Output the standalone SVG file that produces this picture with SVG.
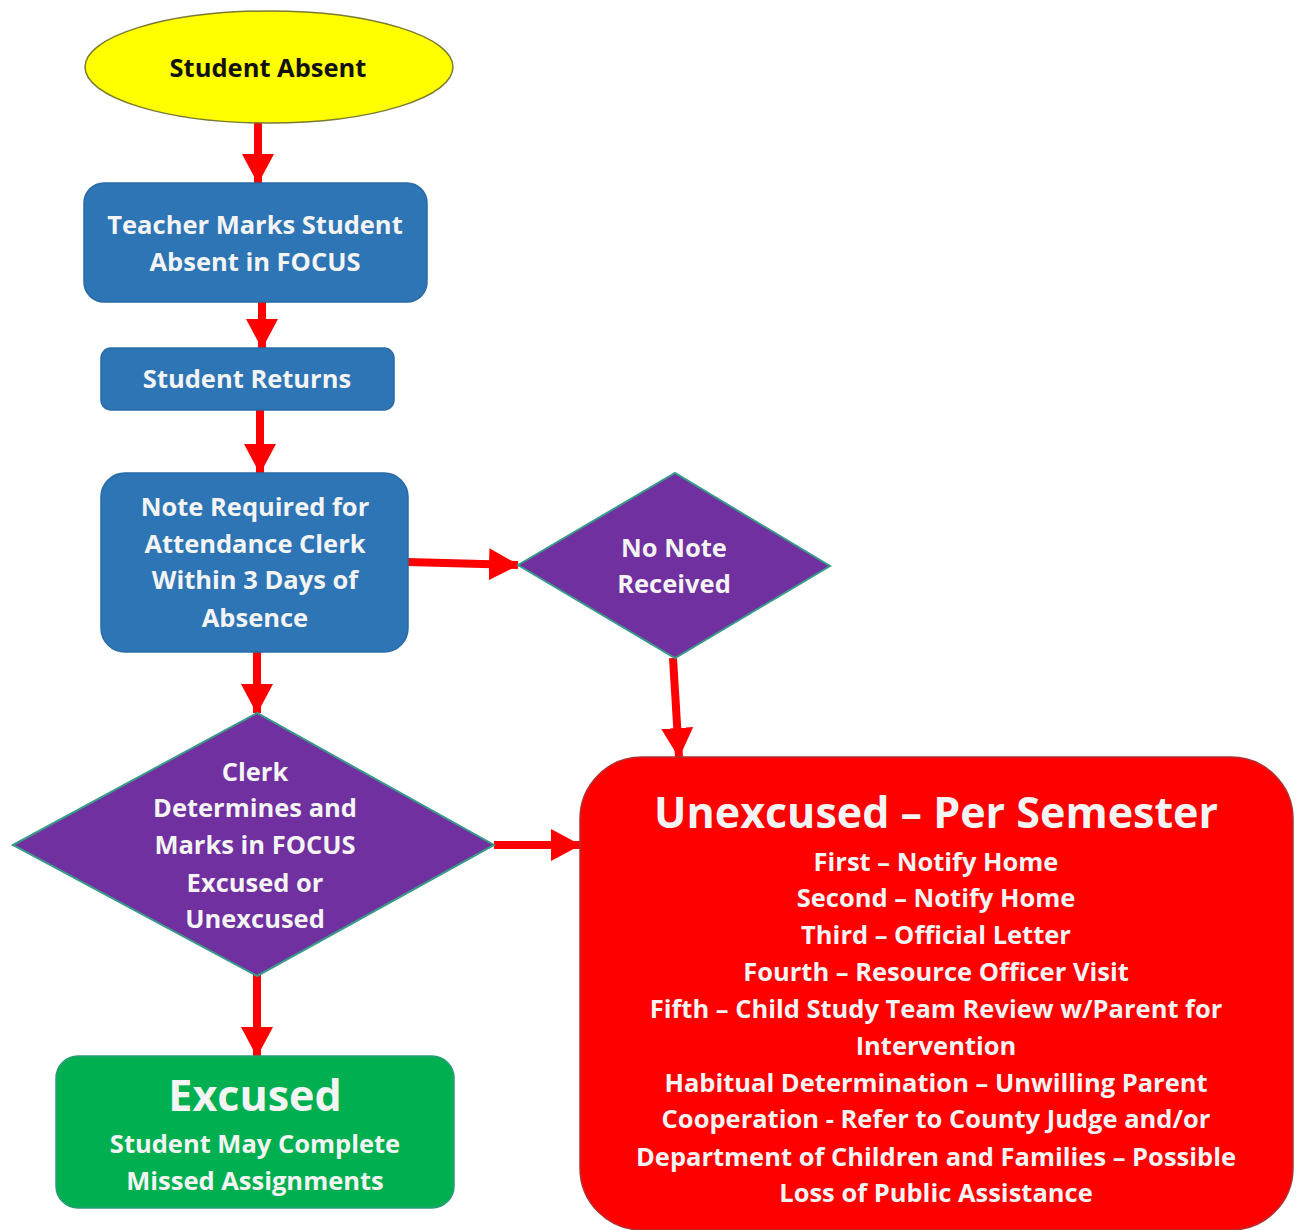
<svg xmlns="http://www.w3.org/2000/svg" width="1296" height="1230" viewBox="0 0 1296 1230">
<defs>
<marker id="ah" markerUnits="userSpaceOnUse" markerWidth="30" markerHeight="32" refX="29" refY="16" orient="auto">
<path d="M0,0 L30,16 L0,32 Z" fill="#ff0000"/>
</marker>
<style>
.t{font-family:"Open Sans",Lato,"Liberation Sans",sans-serif;font-weight:bold;text-anchor:middle;fill:#f4f4f4;font-size:25.5px}
.big{font-size:43px}
.box{fill:#2e75b6;stroke:#2a6aa6;stroke-width:1.5}
.dia{fill:#7030a0;stroke:#3a9a8a;stroke-width:2}
.arr{stroke:#ff0000;stroke-width:8;fill:none;marker-end:url(#ah)}
</style>
</defs>
<rect width="1296" height="1230" fill="#ffffff"/>
<g id="connectors">
<line class="arr" x1="258" y1="123" x2="258" y2="183"/>
<line class="arr" x1="262" y1="302" x2="262" y2="348"/>
<line class="arr" x1="260" y1="410" x2="260" y2="473"/>
<line class="arr" x1="408" y1="562" x2="518" y2="565"/>
<line class="arr" x1="673" y1="658" x2="679" y2="757"/>
<line class="arr" x1="257" y1="652" x2="257" y2="713"/>
<line class="arr" x1="494" y1="845" x2="580" y2="845"/>
<line class="arr" x1="257" y1="975" x2="257" y2="1056"/>
</g>
<g id="student-absent">
<ellipse cx="269" cy="67" rx="184" ry="56" fill="#ffff00" stroke="#7a7a30" stroke-width="1.5"/>
<text class="t" x="268" y="77" style="fill:#111">Student Absent</text>
</g>
<g id="teacher-marks">
<rect class="box" x="84" y="183" width="343" height="119" rx="20"/>
<text class="t" x="255" y="234">Teacher Marks Student</text>
<text class="t" x="255" y="271">Absent in FOCUS</text>
</g>
<g id="student-returns">
<rect class="box" x="101" y="348" width="293" height="62" rx="10"/>
<text class="t" x="247" y="388">Student Returns</text>
</g>
<g id="note-required">
<rect class="box" x="101" y="473" width="307" height="179" rx="24"/>
<text class="t" x="255" y="516">Note Required for</text>
<text class="t" x="255" y="553">Attendance Clerk</text>
<text class="t" x="255" y="589">Within 3 Days of</text>
<text class="t" x="255" y="627">Absence</text>
</g>
<g id="no-note">
<polygon class="dia" points="518,565 675,473 830,566 675,658"/>
<text class="t" x="674" y="557">No Note</text>
<text class="t" x="674" y="593">Received</text>
</g>
<g id="clerk-determines">
<polygon class="dia" points="13,845 257,713 494,845 257,976"/>
<text class="t" x="255" y="781">Clerk</text>
<text class="t" x="255" y="817">Determines and</text>
<text class="t" x="255" y="854">Marks in FOCUS</text>
<text class="t" x="255" y="892">Excused or</text>
<text class="t" x="255" y="928">Unexcused</text>
</g>
<g id="excused">
<rect x="56" y="1056" width="398" height="152" rx="22" fill="#00b050" stroke="#2a9a7a" stroke-width="1.5"/>
<text class="t big" x="255" y="1111">Excused</text>
<text class="t" x="255" y="1153">Student May Complete</text>
<text class="t" x="255" y="1190">Missed Assignments</text>
</g>
<g id="unexcused">
<rect x="580" y="757" width="713" height="473" rx="62" fill="#ff0000" stroke="#b03030" stroke-width="1.5"/>
<text class="t big" x="936" y="828">Unexcused – Per Semester</text>
<text class="t" x="936" y="871">First – Notify Home</text>
<text class="t" x="936" y="907">Second – Notify Home</text>
<text class="t" x="936" y="944">Third – Official Letter</text>
<text class="t" x="936" y="981">Fourth – Resource Officer Visit</text>
<text class="t" x="936" y="1018">Fifth – Child Study Team Review w/Parent for</text>
<text class="t" x="936" y="1055">Intervention</text>
<text class="t" x="936" y="1092">Habitual Determination – Unwilling Parent</text>
<text class="t" x="936" y="1128">Cooperation - Refer to County Judge and/or</text>
<text class="t" x="936" y="1166">Department of Children and Families – Possible</text>
<text class="t" x="936" y="1202">Loss of Public Assistance</text>
</g>
</svg>
